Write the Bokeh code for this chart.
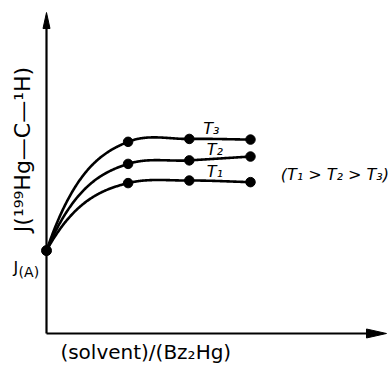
import numpy as np
from bokeh.plotting import figure
from bokeh.models import Range1d
from bokeh.core.properties import value
from bokeh.embed import file_html
from bokeh.resources import INLINE

# ---- data (arbitrary units) ----
conc = [0.0, 2.4, 4.2, 6.0]
J_A = 2.59
T3_vals = [J_A, 5.99, 6.08, 6.06]
T2_vals = [J_A, 5.30, 5.41, 5.53]
T1_vals = [J_A, 4.70, 4.78, 4.73]
series_names = ["T₃", "T₂", "T₁"]
x_label = "(solvent)/(Bz₂Hg)"
y_label = "J(¹⁹⁹Hg—C—¹H)"
order_note = "(T₁ > T₂ > T₃)"

FONT = "DejaVu Sans"


def smooth(x, y, n=120):
    """Hermite curve through the points; saturating shape (steep start, flattening)."""
    x = np.asarray(x, float); y = np.asarray(y, float)
    h = np.diff(x); d = np.diff(y) / h
    m = np.zeros_like(y)
    m[0] = 2.2 * d[0]
    m[1] = 0.3 * d[0]
    for k in range(2, len(x) - 1):
        m[k] = 0.5 * (d[k - 1] + d[k])
    m[-1] = d[-1]
    xs, ys = [], []
    for k in range(len(h)):
        t = np.linspace(0, 1, n)
        h00 = 2 * t**3 - 3 * t**2 + 1; h10 = t**3 - 2 * t**2 + t
        h01 = -2 * t**3 + 3 * t**2; h11 = t**3 - t**2
        xs.extend(x[k] + t * h[k])
        ys.extend(h00 * y[k] + h10 * h[k] * m[k] + h01 * y[k + 1] + h11 * h[k] * m[k + 1])
    return xs, ys


W, H = 390, 365
p = figure(width=W, height=H, output_backend="svg", toolbar_location=None,
           x_range=Range1d(-1.353, 10.118), y_range=Range1d(-1.0, 10.406),
           min_border=0, min_border_left=0, min_border_right=0,
           min_border_top=0, min_border_bottom=0)
p.xaxis.visible = False
p.yaxis.visible = False
p.xgrid.visible = False
p.ygrid.visible = False
p.outline_line_color = None
p.background_fill_color = "white"
p.border_fill_color = "white"

# axes with arrow heads
px_x = 1 / 34.0
px_y = 1 / 32.0
y_top = 10.03
x_right = 10.0
p.line([0, 0], [0, y_top - 0.3], line_color="black", line_width=2.2)
p.line([0, x_right - 0.4], [0, 0], line_color="black", line_width=2.2)
p.patch([0, -3.5 * px_x, 3.5 * px_x], [y_top, y_top - 16 * px_y, y_top - 16 * px_y],
        fill_color="black", line_color="black", line_width=1)
p.patch([x_right, x_right - 20 * px_x, x_right - 20 * px_x], [0, 4.5 * px_y, -4.5 * px_y],
        fill_color="black", line_color="black", line_width=1)

# curves and points
for vals in (T3_vals, T2_vals, T1_vals):
    xs, ys = smooth(conc, vals)
    p.line(xs, ys, line_color="black", line_width=2.6)
    p.scatter(conc[1:], vals[1:], size=9.5, color="black")
p.scatter([0], [J_A], size=10, color="black")

# series labels
lab_x = [4.85, 4.95, 4.95]
lab_y = [6.4, 5.75, 5.05]
p.text(lab_x, lab_y, text=series_names, text_font=value(FONT), text_font_size="16px",
       text_font_style="italic", text_align="center", text_baseline="middle", text_color="black")

p.text([10.07], [4.97], text=[order_note], text_font=value(FONT), text_font_size="16px",
       text_font_style="italic", text_align="right", text_baseline="middle", text_color="black")

# J(A)
p.text([-0.83], [2.05], text=["J"], text_font=value(FONT), text_font_size="16px",
       text_align="right", text_baseline="alphabetic", text_color="black")
p.text([-0.82], [1.91], text=["(A)"], text_font=value(FONT), text_font_size="14px",
       text_align="left", text_baseline="alphabetic", text_color="black")

# axis titles
p.text([2.92], [-0.59], text=[x_label], text_font=value(FONT), text_font_size="20px",
       text_align="center", text_baseline="middle", text_color="black")
p.text([-0.72], [5.75], text=[y_label], text_font=value(FONT), text_font_size="22px",
       angle=np.pi / 2, text_align="center", text_baseline="middle", text_color="black")

open("out.html", "w").write(file_html(p, INLINE))
